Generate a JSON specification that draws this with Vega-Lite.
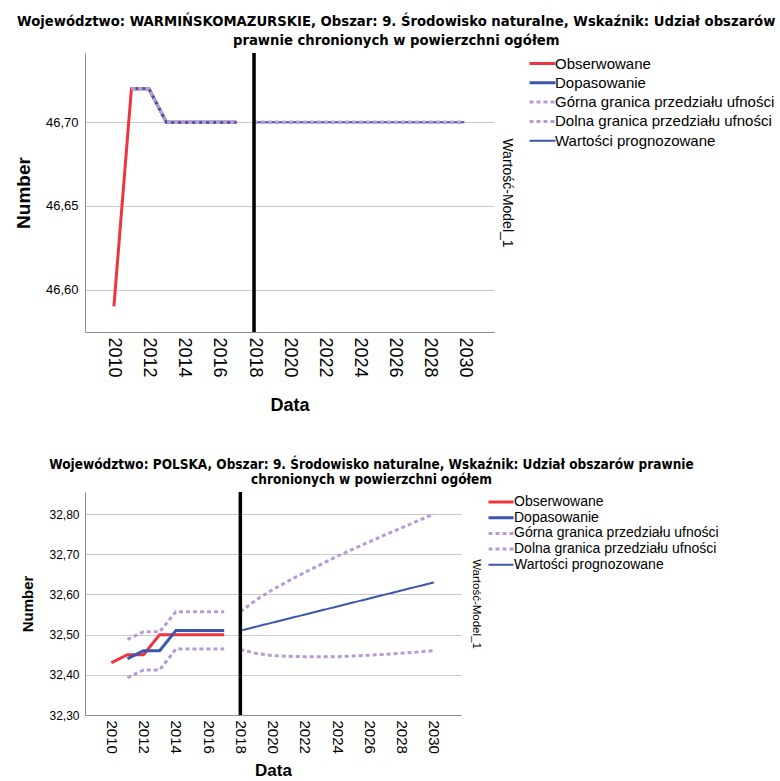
{
  "$schema": "https://vega.github.io/schema/vega-lite/v6.json",
  "padding": {"left": 14, "top": 13, "right": 0, "bottom": 0},
  "background": "white",
  "spacing": 43,
  "columns": 1,
  "align": "none",
  "datasets": {
    "woj": [
      {"Seria": "Obserwowane", "Odcinek": "h", "Rok": 2010, "Wartosc": 46.59},
      {"Seria": "Obserwowane", "Odcinek": "h", "Rok": 2011, "Wartosc": 46.72},
      {"Seria": "Obserwowane", "Odcinek": "h", "Rok": 2012, "Wartosc": 46.72},
      {"Seria": "Obserwowane", "Odcinek": "h", "Rok": 2013, "Wartosc": 46.70},
      {"Seria": "Obserwowane", "Odcinek": "h", "Rok": 2014, "Wartosc": 46.70},
      {"Seria": "Obserwowane", "Odcinek": "h", "Rok": 2015, "Wartosc": 46.70},
      {"Seria": "Obserwowane", "Odcinek": "h", "Rok": 2016, "Wartosc": 46.70},
      {"Seria": "Obserwowane", "Odcinek": "h", "Rok": 2017, "Wartosc": 46.70},
      {"Seria": "Dopasowanie", "Odcinek": "h", "Rok": 2011, "Wartosc": 46.72},
      {"Seria": "Dopasowanie", "Odcinek": "h", "Rok": 2012, "Wartosc": 46.72},
      {"Seria": "Dopasowanie", "Odcinek": "h", "Rok": 2013, "Wartosc": 46.70},
      {"Seria": "Dopasowanie", "Odcinek": "h", "Rok": 2014, "Wartosc": 46.70},
      {"Seria": "Dopasowanie", "Odcinek": "h", "Rok": 2015, "Wartosc": 46.70},
      {"Seria": "Dopasowanie", "Odcinek": "h", "Rok": 2016, "Wartosc": 46.70},
      {"Seria": "Dopasowanie", "Odcinek": "h", "Rok": 2017, "Wartosc": 46.70},
      {"Seria": "Górna granica przedziału ufności", "Odcinek": "h", "Rok": 2011, "Wartosc": 46.72},
      {"Seria": "Górna granica przedziału ufności", "Odcinek": "h", "Rok": 2012, "Wartosc": 46.72},
      {"Seria": "Górna granica przedziału ufności", "Odcinek": "h", "Rok": 2013, "Wartosc": 46.70},
      {"Seria": "Górna granica przedziału ufności", "Odcinek": "h", "Rok": 2014, "Wartosc": 46.70},
      {"Seria": "Górna granica przedziału ufności", "Odcinek": "h", "Rok": 2015, "Wartosc": 46.70},
      {"Seria": "Górna granica przedziału ufności", "Odcinek": "h", "Rok": 2016, "Wartosc": 46.70},
      {"Seria": "Górna granica przedziału ufności", "Odcinek": "h", "Rok": 2017, "Wartosc": 46.70},
      {"Seria": "Górna granica przedziału ufności", "Odcinek": "f", "Rok": 2018, "Wartosc": 46.70},
      {"Seria": "Górna granica przedziału ufności", "Odcinek": "f", "Rok": 2030, "Wartosc": 46.70},
      {"Seria": "Dolna granica przedziału ufności", "Odcinek": "h", "Rok": 2011, "Wartosc": 46.72},
      {"Seria": "Dolna granica przedziału ufności", "Odcinek": "h", "Rok": 2012, "Wartosc": 46.72},
      {"Seria": "Dolna granica przedziału ufności", "Odcinek": "h", "Rok": 2013, "Wartosc": 46.70},
      {"Seria": "Dolna granica przedziału ufności", "Odcinek": "h", "Rok": 2014, "Wartosc": 46.70},
      {"Seria": "Dolna granica przedziału ufności", "Odcinek": "h", "Rok": 2015, "Wartosc": 46.70},
      {"Seria": "Dolna granica przedziału ufności", "Odcinek": "h", "Rok": 2016, "Wartosc": 46.70},
      {"Seria": "Dolna granica przedziału ufności", "Odcinek": "h", "Rok": 2017, "Wartosc": 46.70},
      {"Seria": "Dolna granica przedziału ufności", "Odcinek": "f", "Rok": 2018, "Wartosc": 46.70},
      {"Seria": "Dolna granica przedziału ufności", "Odcinek": "f", "Rok": 2030, "Wartosc": 46.70},
      {"Seria": "Wartości prognozowane", "Odcinek": "f", "Rok": 2018, "Wartosc": 46.70},
      {"Seria": "Wartości prognozowane", "Odcinek": "f", "Rok": 2030, "Wartosc": 46.70}
    ],
    "pol": [
      {"Seria": "Obserwowane", "Odcinek": "h", "Rok": 2010, "Wartosc": 32.43},
      {"Seria": "Obserwowane", "Odcinek": "h", "Rok": 2011, "Wartosc": 32.45},
      {"Seria": "Obserwowane", "Odcinek": "h", "Rok": 2012, "Wartosc": 32.45},
      {"Seria": "Obserwowane", "Odcinek": "h", "Rok": 2013, "Wartosc": 32.50},
      {"Seria": "Obserwowane", "Odcinek": "h", "Rok": 2014, "Wartosc": 32.50},
      {"Seria": "Obserwowane", "Odcinek": "h", "Rok": 2015, "Wartosc": 32.50},
      {"Seria": "Obserwowane", "Odcinek": "h", "Rok": 2016, "Wartosc": 32.50},
      {"Seria": "Obserwowane", "Odcinek": "h", "Rok": 2017, "Wartosc": 32.50},
      {"Seria": "Dopasowanie", "Odcinek": "h", "Rok": 2011, "Wartosc": 32.44},
      {"Seria": "Dopasowanie", "Odcinek": "h", "Rok": 2012, "Wartosc": 32.46},
      {"Seria": "Dopasowanie", "Odcinek": "h", "Rok": 2013, "Wartosc": 32.46},
      {"Seria": "Dopasowanie", "Odcinek": "h", "Rok": 2014, "Wartosc": 32.51},
      {"Seria": "Dopasowanie", "Odcinek": "h", "Rok": 2015, "Wartosc": 32.51},
      {"Seria": "Dopasowanie", "Odcinek": "h", "Rok": 2016, "Wartosc": 32.51},
      {"Seria": "Dopasowanie", "Odcinek": "h", "Rok": 2017, "Wartosc": 32.51},
      {"Seria": "Górna granica przedziału ufności", "Odcinek": "h", "Rok": 2011, "Wartosc": 32.488},
      {"Seria": "Górna granica przedziału ufności", "Odcinek": "h", "Rok": 2012, "Wartosc": 32.507},
      {"Seria": "Górna granica przedziału ufności", "Odcinek": "h", "Rok": 2013, "Wartosc": 32.507},
      {"Seria": "Górna granica przedziału ufności", "Odcinek": "h", "Rok": 2014, "Wartosc": 32.557},
      {"Seria": "Górna granica przedziału ufności", "Odcinek": "h", "Rok": 2015, "Wartosc": 32.557},
      {"Seria": "Górna granica przedziału ufności", "Odcinek": "h", "Rok": 2016, "Wartosc": 32.557},
      {"Seria": "Górna granica przedziału ufności", "Odcinek": "h", "Rok": 2017, "Wartosc": 32.557},
      {"Seria": "Górna granica przedziału ufności", "Odcinek": "f", "Rok": 2018, "Wartosc": 32.557},
      {"Seria": "Górna granica przedziału ufności", "Odcinek": "f", "Rok": 2019, "Wartosc": 32.587},
      {"Seria": "Górna granica przedziału ufności", "Odcinek": "f", "Rok": 2020, "Wartosc": 32.612},
      {"Seria": "Górna granica przedziału ufności", "Odcinek": "f", "Rok": 2021, "Wartosc": 32.634},
      {"Seria": "Górna granica przedziału ufności", "Odcinek": "f", "Rok": 2022, "Wartosc": 32.655},
      {"Seria": "Górna granica przedziału ufności", "Odcinek": "f", "Rok": 2023, "Wartosc": 32.675},
      {"Seria": "Górna granica przedziału ufności", "Odcinek": "f", "Rok": 2024, "Wartosc": 32.695},
      {"Seria": "Górna granica przedziału ufności", "Odcinek": "f", "Rok": 2025, "Wartosc": 32.713},
      {"Seria": "Górna granica przedziału ufności", "Odcinek": "f", "Rok": 2026, "Wartosc": 32.731},
      {"Seria": "Górna granica przedziału ufności", "Odcinek": "f", "Rok": 2027, "Wartosc": 32.749},
      {"Seria": "Górna granica przedziału ufności", "Odcinek": "f", "Rok": 2028, "Wartosc": 32.766},
      {"Seria": "Górna granica przedziału ufności", "Odcinek": "f", "Rok": 2029, "Wartosc": 32.783},
      {"Seria": "Górna granica przedziału ufności", "Odcinek": "f", "Rok": 2030, "Wartosc": 32.800},
      {"Seria": "Dolna granica przedziału ufności", "Odcinek": "h", "Rok": 2011, "Wartosc": 32.393},
      {"Seria": "Dolna granica przedziału ufności", "Odcinek": "h", "Rok": 2012, "Wartosc": 32.412},
      {"Seria": "Dolna granica przedziału ufności", "Odcinek": "h", "Rok": 2013, "Wartosc": 32.412},
      {"Seria": "Dolna granica przedziału ufności", "Odcinek": "h", "Rok": 2014, "Wartosc": 32.464},
      {"Seria": "Dolna granica przedziału ufności", "Odcinek": "h", "Rok": 2015, "Wartosc": 32.464},
      {"Seria": "Dolna granica przedziału ufności", "Odcinek": "h", "Rok": 2016, "Wartosc": 32.464},
      {"Seria": "Dolna granica przedziału ufności", "Odcinek": "h", "Rok": 2017, "Wartosc": 32.464},
      {"Seria": "Dolna granica przedziału ufności", "Odcinek": "f", "Rok": 2018, "Wartosc": 32.463},
      {"Seria": "Dolna granica przedziału ufności", "Odcinek": "f", "Rok": 2019, "Wartosc": 32.453},
      {"Seria": "Dolna granica przedziału ufności", "Odcinek": "f", "Rok": 2020, "Wartosc": 32.448},
      {"Seria": "Dolna granica przedziału ufności", "Odcinek": "f", "Rok": 2021, "Wartosc": 32.446},
      {"Seria": "Dolna granica przedziału ufności", "Odcinek": "f", "Rok": 2022, "Wartosc": 32.445},
      {"Seria": "Dolna granica przedziału ufności", "Odcinek": "f", "Rok": 2023, "Wartosc": 32.445},
      {"Seria": "Dolna granica przedziału ufności", "Odcinek": "f", "Rok": 2024, "Wartosc": 32.445},
      {"Seria": "Dolna granica przedziału ufności", "Odcinek": "f", "Rok": 2025, "Wartosc": 32.447},
      {"Seria": "Dolna granica przedziału ufności", "Odcinek": "f", "Rok": 2026, "Wartosc": 32.449},
      {"Seria": "Dolna granica przedziału ufności", "Odcinek": "f", "Rok": 2027, "Wartosc": 32.451},
      {"Seria": "Dolna granica przedziału ufności", "Odcinek": "f", "Rok": 2028, "Wartosc": 32.454},
      {"Seria": "Dolna granica przedziału ufności", "Odcinek": "f", "Rok": 2029, "Wartosc": 32.457},
      {"Seria": "Dolna granica przedziału ufności", "Odcinek": "f", "Rok": 2030, "Wartosc": 32.460},
      {"Seria": "Wartości prognozowane", "Odcinek": "f", "Rok": 2018, "Wartosc": 32.51},
      {"Seria": "Wartości prognozowane", "Odcinek": "f", "Rok": 2019, "Wartosc": 32.52},
      {"Seria": "Wartości prognozowane", "Odcinek": "f", "Rok": 2020, "Wartosc": 32.53},
      {"Seria": "Wartości prognozowane", "Odcinek": "f", "Rok": 2021, "Wartosc": 32.54},
      {"Seria": "Wartości prognozowane", "Odcinek": "f", "Rok": 2022, "Wartosc": 32.55},
      {"Seria": "Wartości prognozowane", "Odcinek": "f", "Rok": 2023, "Wartosc": 32.56},
      {"Seria": "Wartości prognozowane", "Odcinek": "f", "Rok": 2024, "Wartosc": 32.57},
      {"Seria": "Wartości prognozowane", "Odcinek": "f", "Rok": 2025, "Wartosc": 32.58},
      {"Seria": "Wartości prognozowane", "Odcinek": "f", "Rok": 2026, "Wartosc": 32.59},
      {"Seria": "Wartości prognozowane", "Odcinek": "f", "Rok": 2027, "Wartosc": 32.60},
      {"Seria": "Wartości prognozowane", "Odcinek": "f", "Rok": 2028, "Wartosc": 32.61},
      {"Seria": "Wartości prognozowane", "Odcinek": "f", "Rok": 2029, "Wartosc": 32.62},
      {"Seria": "Wartości prognozowane", "Odcinek": "f", "Rok": 2030, "Wartosc": 32.63}
    ],
    "granica": [{"Rok": 2018}]
  },
  "config": {
    "font": "Liberation Sans",
    "view": {"stroke": null},
    "axis": {"labelColor": "black", "titleColor": "black", "labelFont": "Liberation Sans", "titleFont": "Liberation Sans", "domainColor": "#8c8c8c", "gridColor": "#cccccc", "gridOpacity": 1, "ticks": false},
    "legend": {"symbolType": "stroke", "labelColor": "black", "labelFont": "Liberation Sans", "title": null, "orient": "right", "symbolOpacity": 1, "labelLimit": 400},
    "title": {"color": "black", "font": "DejaVu Sans Condensed, Liberation Sans", "fontWeight": "bold", "anchor": "middle", "frame": "bounds"}
  },
  "resolve": {
    "scale": {"color": "independent", "strokeDash": "independent", "x": "independent", "y": "independent"},
    "legend": {"color": "independent", "strokeDash": "independent"}
  },
  "concat": [
    {
      "title": {"text": ["Województwo: WARMIŃSKOMAZURSKIE, Obszar: 9. Środowisko naturalne, Wskaźnik: Udział obszarów", "prawnie chronionych w powierzchni ogółem"], "fontSize": 14.7, "lineHeight": 19, "offset": 4},
      "width": 409,
      "height": 279,
      "data": {"name": "woj"},
      "encoding": {
        "x": {"field": "Rok", "type": "quantitative", "title": "Data",
          "scale": {"domain": [2008.35, 2031.7], "nice": false, "zero": false},
          "axis": {"values": [2010, 2012, 2014, 2016, 2018, 2020, 2022, 2024, 2026, 2028, 2030], "format": "d", "labelAngle": 90, "labelFontSize": 18, "labelPadding": 5, "titleFontSize": 18, "titleFontWeight": "bold", "titlePadding": 19, "grid": false}},
        "color": {"field": "Seria", "type": "nominal",
          "scale": {"domain": ["Obserwowane", "Dopasowanie", "Górna granica przedziału ufności", "Dolna granica przedziału ufności", "Wartości prognozowane"], "range": ["#ef3340", "#3b56ae", "#b69bd4", "#b69bd4", "#3b56ae"]},
          "legend": {"labelFontSize": 15, "symbolSize": 676, "labelOffset": 5, "rowPadding": 3.3, "padding": 3, "offset": 19, "encode": {"symbols": {"update": {"strokeWidth": {"signal": "datum.value === 'Wartości prognozowane' ? 2 : 3"}}}}}},
        "strokeDash": {"field": "Seria", "type": "nominal",
          "scale": {"domain": ["Obserwowane", "Dopasowanie", "Górna granica przedziału ufności", "Dolna granica przedziału ufności", "Wartości prognozowane"], "range": [[1, 0], [1, 0], [4, 3], [4, 3], [1, 0]]},
          "legend": {"labelFontSize": 15, "symbolSize": 676, "labelOffset": 5, "rowPadding": 3.3, "padding": 3, "offset": 19, "encode": {"symbols": {"update": {"strokeWidth": {"signal": "datum.value === 'Wartości prognozowane' ? 2 : 3"}}}}}},
        "detail": {"field": "Odcinek", "type": "nominal"}
      },
      "layer": [
        {
          "transform": [{"filter": "datum.Seria === 'Obserwowane'"}],
          "mark": {"type": "line", "strokeWidth": 3},
          "encoding": {"y": {"field": "Wartosc", "type": "quantitative", "title": "Number",
            "scale": {"domain": [46.5747, 46.7414], "nice": false, "zero": false},
            "axis": {"values": [46.6, 46.65, 46.7], "labelExpr": "replace(format(datum.value, '.2f'), '.', ',')", "labelFontSize": 13, "labelPadding": 7, "titleFontSize": 19, "titleFontWeight": "bold", "titlePadding": 12, "grid": true}}}
        },
        {
          "transform": [{"filter": "datum.Seria === 'Dopasowanie'"}],
          "mark": {"type": "line", "strokeWidth": 3},
          "encoding": {"y": {"field": "Wartosc", "type": "quantitative", "scale": {"domain": [46.5747, 46.7414], "nice": false, "zero": false}, "axis": null}}
        },
        {
          "transform": [{"filter": "datum.Seria === 'Wartości prognozowane'"}],
          "mark": {"type": "line", "strokeWidth": 2},
          "encoding": {"y": {"field": "Wartosc", "type": "quantitative", "title": "Wartość-Model_1",
            "scale": {"domain": [46.5747, 46.7414], "nice": false, "zero": false},
            "axis": {"orient": "right", "labels": false, "domain": false, "grid": false, "titleAngle": 90, "titleFontSize": 14, "titleFontWeight": "normal", "titlePadding": 5}}}
        },
        {
          "transform": [{"filter": "datum.Seria === 'Górna granica przedziału ufności'"}],
          "mark": {"type": "line", "strokeWidth": 3},
          "encoding": {"y": {"field": "Wartosc", "type": "quantitative", "scale": {"domain": [46.5747, 46.7414], "nice": false, "zero": false}, "axis": null}}
        },
        {
          "transform": [{"filter": "datum.Seria === 'Dolna granica przedziału ufności'"}],
          "mark": {"type": "line", "strokeWidth": 3},
          "encoding": {"y": {"field": "Wartosc", "type": "quantitative", "scale": {"domain": [46.5747, 46.7414], "nice": false, "zero": false}, "axis": null}}
        },
        {
          "data": {"name": "granica"},
          "mark": {"type": "rule"},
          "encoding": {"color": {"value": "black"}, "strokeDash": {"value": [1, 0]}, "strokeWidth": {"value": 3.5}, "detail": {"value": 1}}
        }
      ],
      "resolve": {"axis": {"y": "independent"}}
    },
    {
      "title": {"text": ["Województwo: POLSKA, Obszar: 9. Środowisko naturalne, Wskaźnik: Udział obszarów prawnie", "chronionych w powierzchni ogółem"], "fontSize": 13.5, "lineHeight": 14.5, "offset": 4},
      "width": 376,
      "height": 223,
      "data": {"name": "pol"},
      "encoding": {
        "x": {"field": "Rok", "type": "quantitative", "title": "Data",
          "scale": {"domain": [2008.37, 2031.68], "nice": false, "zero": false},
          "axis": {"values": [2010, 2012, 2014, 2016, 2018, 2020, 2022, 2024, 2026, 2028, 2030], "format": "d", "labelAngle": 90, "labelFontSize": 15, "labelPadding": 5, "titleFontSize": 17, "titleFontWeight": "bold", "titlePadding": 9, "grid": false}},
        "color": {"field": "Seria", "type": "nominal",
          "scale": {"domain": ["Obserwowane", "Dopasowanie", "Górna granica przedziału ufności", "Dolna granica przedziału ufności", "Wartości prognozowane"], "range": ["#ef3340", "#3b56ae", "#b69bd4", "#b69bd4", "#3b56ae"]},
          "legend": {"labelFontSize": 14, "symbolSize": 625, "labelOffset": 6, "rowPadding": 1.7, "padding": 3, "offset": 10, "encode": {"symbols": {"update": {"strokeWidth": {"signal": "datum.value === 'Wartości prognozowane' ? 2 : 3"}}}}}},
        "strokeDash": {"field": "Seria", "type": "nominal",
          "scale": {"domain": ["Obserwowane", "Dopasowanie", "Górna granica przedziału ufności", "Dolna granica przedziału ufności", "Wartości prognozowane"], "range": [[1, 0], [1, 0], [4, 3], [4, 3], [1, 0]]},
          "legend": {"labelFontSize": 14, "symbolSize": 625, "labelOffset": 6, "rowPadding": 1.7, "padding": 3, "offset": 10, "encode": {"symbols": {"update": {"strokeWidth": {"signal": "datum.value === 'Wartości prognozowane' ? 2 : 3"}}}}}},
        "detail": {"field": "Odcinek", "type": "nominal"}
      },
      "layer": [
        {
          "transform": [{"filter": "datum.Seria === 'Obserwowane'"}],
          "mark": {"type": "line", "strokeWidth": 3},
          "encoding": {"y": {"field": "Wartosc", "type": "quantitative", "title": "Number",
            "scale": {"domain": [32.3, 32.855], "nice": false, "zero": false},
            "axis": {"values": [32.3, 32.4, 32.5, 32.6, 32.7, 32.8], "labelExpr": "replace(format(datum.value, '.2f'), '.', ',')", "labelFontSize": 12, "labelPadding": 6, "titleFontSize": 15, "titleFontWeight": "bold", "titlePadding": 13, "grid": true}}}
        },
        {
          "transform": [{"filter": "datum.Seria === 'Dopasowanie'"}],
          "mark": {"type": "line", "strokeWidth": 3},
          "encoding": {"y": {"field": "Wartosc", "type": "quantitative", "scale": {"domain": [32.3, 32.855], "nice": false, "zero": false}, "axis": null}}
        },
        {
          "transform": [{"filter": "datum.Seria === 'Wartości prognozowane'"}],
          "mark": {"type": "line", "strokeWidth": 2},
          "encoding": {"y": {"field": "Wartosc", "type": "quantitative", "title": "Wartość-Model_1",
            "scale": {"domain": [32.3, 32.855], "nice": false, "zero": false},
            "axis": {"orient": "right", "labels": false, "domain": false, "grid": false, "titleAngle": 90, "titleFontSize": 11.5, "titleFontWeight": "normal", "titlePadding": 9}}}
        },
        {
          "transform": [{"filter": "datum.Seria === 'Górna granica przedziału ufności'"}],
          "mark": {"type": "line", "strokeWidth": 3},
          "encoding": {"y": {"field": "Wartosc", "type": "quantitative", "scale": {"domain": [32.3, 32.855], "nice": false, "zero": false}, "axis": null}}
        },
        {
          "transform": [{"filter": "datum.Seria === 'Dolna granica przedziału ufności'"}],
          "mark": {"type": "line", "strokeWidth": 3},
          "encoding": {"y": {"field": "Wartosc", "type": "quantitative", "scale": {"domain": [32.3, 32.855], "nice": false, "zero": false}, "axis": null}}
        },
        {
          "data": {"name": "granica"},
          "mark": {"type": "rule"},
          "encoding": {"color": {"value": "black"}, "strokeDash": {"value": [1, 0]}, "strokeWidth": {"value": 3.5}, "detail": {"value": 1}}
        }
      ],
      "resolve": {"axis": {"y": "independent"}}
    }
  ]
}
